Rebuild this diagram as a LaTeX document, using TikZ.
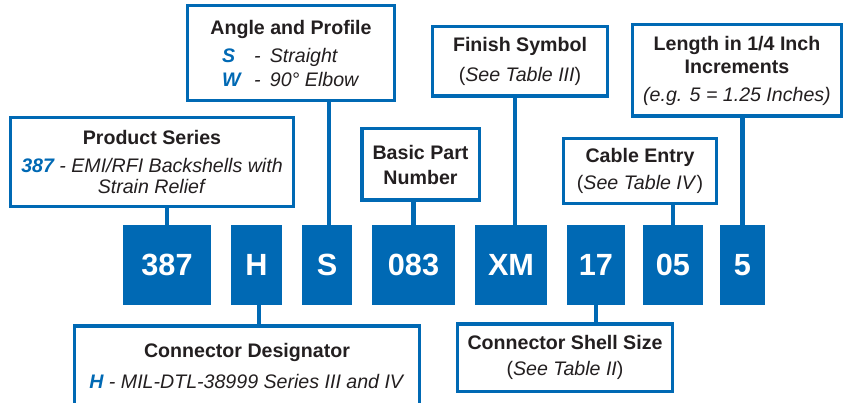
\documentclass[tikz,border=0pt]{standalone}
\usepackage{fontspec}
\setmainfont{Liberation Sans}
\usepackage{xcolor}
\usetikzlibrary{positioning,calc}

\definecolor{pnblue}{HTML}{0069B4}
\definecolor{pntext}{HTML}{231F20}

\newcommand{\pncode}[1]{{\color{pnblue}\bfseries\itshape #1}}

\tikzset{
  code/.style={fill=pnblue, text=white, inner sep=0pt, minimum height=60pt,
    font=\fontsize{23pt}{27pt}\selectfont\bfseries},
  infobox/.style={draw=pnblue, line width=2.6pt, fill=white, text=pntext,
    align=center, inner sep=0pt, font=\fontsize{14.7pt}{15.75pt}\selectfont},
  leg/.style={draw=pnblue, line width=3.4pt}
}

\begin{document}
\begin{tikzpicture}[x=0.75pt,y=-0.75pt]
  \useasboundingbox (0,0) rectangle (844,403);

  % part number
  \node[code, minimum width=66pt]    (c387) at (167,265)   {387};
  \node[code, minimum width=38.25pt] (cH)   at (256.5,265) {H};
  \node[code, minimum width=37.5pt]  (cS)   at (327,265)   {S};
  \node[code, minimum width=62.25pt] (c083) at (413.5,265) {083};
  \node[code, minimum width=54pt]    (cXM)  at (511,265)   {XM};
  \node[code, minimum width=43.5pt]  (c17)  at (596,265)   {17};
  \node[code, minimum width=45pt]    (c05)  at (673,265)   {05};
  \node[code, minimum width=33.75pt] (c5)   at (742.5,265) {5};

  % boxes above
  \node[infobox, minimum width=211.9pt, minimum height=66.4pt] (series) at (152,162)
    {\textbf{Product Series}\\[5.25pt]
     \pncode{387} \textit{- EMI/RFI Backshells with}\\
     \textit{Strain Relief}};
  \node[infobox, minimum width=154.9pt, minimum height=70.9pt] (angle) at (291,53)
    {\textbf{Angle and Profile}\\[5.25pt]
     \makebox[103.5pt][l]{\makebox[24pt][l]{\pncode{S}}\textit{-}\hspace{7pt}\textit{Straight}}\\[2.25pt]
     \makebox[103.5pt][l]{\makebox[24pt][l]{\pncode{W}}\textit{-}\hspace{7pt}\textit{90° Elbow}}};
  \node[infobox, minimum width=88.1pt, minimum height=53.6pt] (part) at (420.5,164.5)
    {\textbf{Basic Part}\\[3pt]\textbf{Number}};
  \node[infobox, minimum width=130.9pt, minimum height=52.1pt] (finish) at (520,61.5)
    {\textbf{Finish Symbol}\\[6.75pt](\textit{See Table III})};
  \node[infobox, minimum width=114.4pt, minimum height=48.4pt] (entry) at (640,171)
    {\textbf{Cable Entry}\\[4.5pt](\textit{See Table IV})};
  \node[infobox, minimum width=156.4pt, minimum height=68.6pt] (length) at (737,70.5)
    {\textbf{Length in 1/4 Inch}\\[1.5pt]\textbf{Increments}\\[5.25pt]
     \textit{(e.g. 5 = 1.25 Inches)}};

  % boxes below
  \node[infobox, minimum width=258.4pt, minimum height=59.25pt] (designator) at (247,365.5)
    {\textbf{Connector Designator}\\[7.5pt]
     \pncode{H} \textit{- MIL-DTL-38999 Series III and IV}};
  \node[infobox, minimum width=160.9pt, minimum height=50.6pt] (shell) at (565,357.5)
    {\textbf{Connector Shell Size}\\[3.75pt](\textit{See Table II})};

  % legs
  \draw[leg] (c387.north) -- (c387.north |- series.south);
  \draw[leg] ([xshift=1.5pt]cS.north) -- ([xshift=1.5pt]cS.north |- angle.south);
  \draw[leg] (c083.north) -- (c083.north |- part.south);
  \draw[leg] ([xshift=3pt]cXM.north) -- ([xshift=3pt]cXM.north |- finish.south);
  \draw[leg] (c05.north) -- (c05.north |- entry.south);
  \draw[leg] (c5.north) -- (c5.north |- length.south);
  \draw[leg] ([xshift=2pt]cH.south) -- ([xshift=2pt]cH.south |- designator.north);
  \draw[leg] (c17.south) -- (c17.south |- shell.north);
\end{tikzpicture}
\end{document}
